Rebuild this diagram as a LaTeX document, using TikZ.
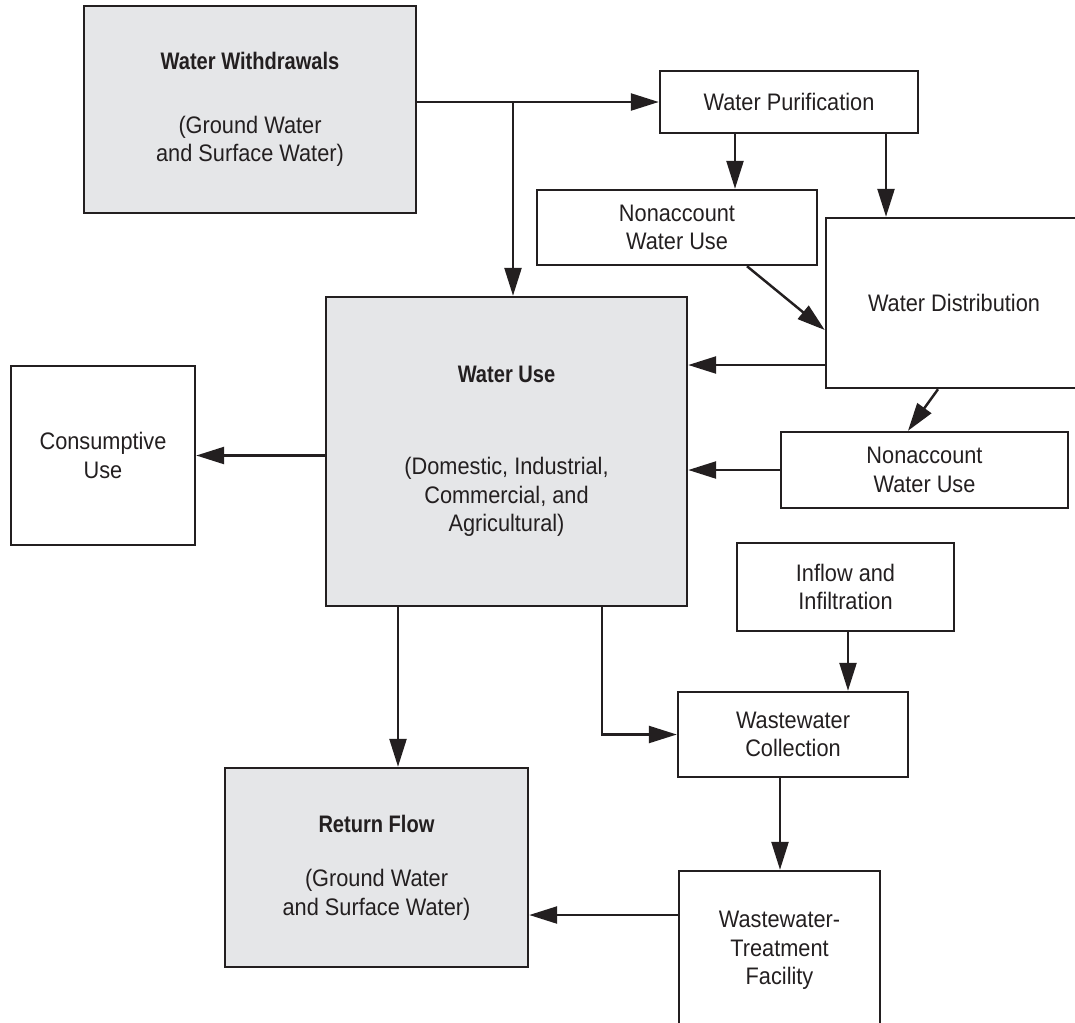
\documentclass[tikz,border=0pt]{standalone}
\usepackage{fontspec}
\setmainfont{Liberation Sans}[FakeStretch=0.91, BoldFeatures={FakeStretch=0.84}]
\usetikzlibrary{arrows.meta, calc}
\definecolor{ink}{HTML}{231F20}
\definecolor{shade}{HTML}{E5E6E8}

\begin{document}
\begin{tikzpicture}[x=0.02cm, y=-0.02cm,
    box/.style 2 args = {draw=ink, line width=1.4pt, inner sep=0pt, align=center, text=ink,
        minimum width=#1*0.02cm, minimum height=#2*0.02cm, font=\fontsize{13.6}{16.2}\selectfont},
    main/.style = {fill=shade},
    flow/.style = {draw=ink, line width=1.4pt, -{Triangle[length=0.56cm, width=0.34cm]}}]
        \clip (0,0) rectangle (1075,1022); % page
        \node[box={332}{207}, main] (ww) at (250,109.5) {\textbf{Water Withdrawals}\\[20pt](Ground Water\\and Surface Water)};
        \node[box={258}{62}] (wp) at (789,102) {Water Purification};
        \node[box={280}{75}] (na1) at (677,227.5) {Nonaccount\\Water Use};
        \node[box={256}{170}] (wd) at (954,303) {Water Distribution};
        \node[box={361}{309}, main] (wu) at (506.5,451.5) {\textbf{Water Use}\\[36pt](Domestic, Industrial,\\Commercial, and\\Agricultural)};
        \node[box={184}{179}] (cu) at (103,455.5) {Consumptive\\Use};
        \node[box={287}{76}] (na2) at (924.5,470) {Nonaccount\\Water Use};
        \node[box={217}{88}] (inf) at (845.5,587) {Inflow and\\Infiltration};
        \node[box={230}{85}] (wc) at (793,734.5) {Wastewater\\Collection};
        \node[box={303}{199}, main] (rf) at (376.5,867.5) {\textbf{Return Flow}\\[15pt](Ground Water\\and Surface Water)};
        \node[box={201}{159}] (wtf) at (779.5,950.5) {Wastewater-\\Treatment\\Facility};
        \coordinate (split) at (513,102);
        \draw[flow] (ww.east |- wp.west) -- (wp.west);
        \draw[flow] (split) -- (split |- wu.north);
        \draw[flow] (wp.south -| 735,0) -- (na1.north -| 735,0);
        \draw[flow] (wp.south -| 886,0) -- (wd.north -| 886,0);
        \draw[flow] (na1.south -| 747,0) -- (wd.west |- 0,330);
        \draw[flow] (wd.west |- 0,365) -- (wu.east |- 0,365);
        \draw[flow] (wd.south -| 938,0) -- (na2.north -| 908,0);
        \draw[flow] (na2.west) -- (wu.east |- na2.west);
        \draw[flow] (wu.west |- cu.east) -- (cu.east);
        \draw[flow] (wu.south -| 398,0) -- (rf.north -| 398,0);
        \draw[flow] (wu.south -| 602,0) |- (wc.west);
        \draw[flow] (inf.south -| 848,0) -- (wc.north -| 848,0);
        \draw[flow] (wc.south -| 780,0) -- (wtf.north -| 780,0);
        \draw[flow] (wtf.west |- 0,915) -- (rf.east |- 0,915);
\end{tikzpicture}
\end{document}
